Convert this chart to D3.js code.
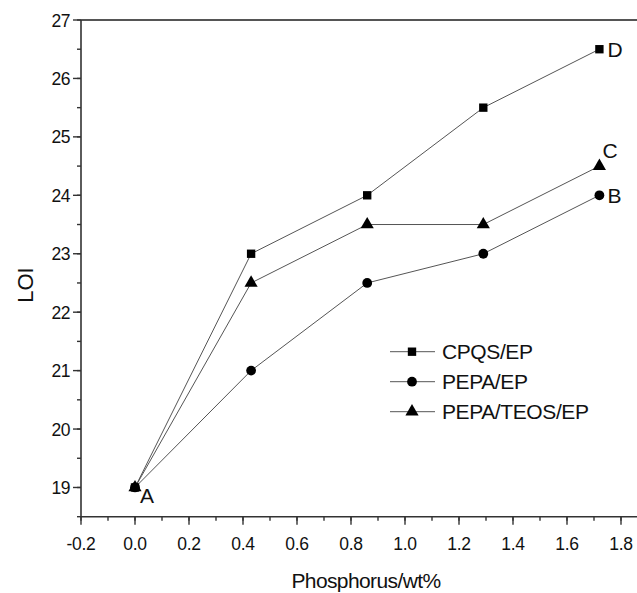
<!DOCTYPE html>
<html><head><meta charset="utf-8">
<script src="https://cdn.jsdelivr.net/npm/d3@7"></script>
<style>body{margin:0;background:#fff}svg{display:block}text{font-family:"Liberation Sans",Arial,sans-serif;fill:#111}</style>
</head><body>
<script>
const phosphorus = [0, 0.43, 0.86, 1.29, 1.72];
const cpqsEP = [19, 23, 24, 25.5, 26.5];
const pepaEP = [19, 21, 22.5, 23, 24];
const pepaTeosEP = [19, 22.5, 23.5, 23.5, 24.5];
const seriesNames = ["CPQS/EP", "PEPA/EP", "PEPA/TEOS/EP"];
const endLabels = ["D", "B", "C"];
const xTicks = [-0.2, 0, 0.2, 0.4, 0.6, 0.8, 1.0, 1.2, 1.4, 1.6, 1.8];
const yTicks = [19, 20, 21, 22, 23, 24, 25, 26, 27];

const W = 637, H = 593;
const svg = d3.select("body").append("svg").attr("width", W).attr("height", H);
const x = d3.scaleLinear().domain([-0.2, 1.8]).range([81, 621]);
const y = d3.scaleLinear().domain([18.5, 27]).range([516.7, 20]);
const xEnd = W;

const axisColor = "#333";
svg.append("line").attr("x1", 81).attr("x2", xEnd).attr("y1", y(27)).attr("y2", y(27))
  .attr("stroke", "#555").attr("stroke-width", 2);

// X axis
const gx = svg.append("g").attr("transform", `translate(0,${y(18.5)})`);
gx.append("line").attr("x1", 81).attr("x2", xEnd).attr("stroke", axisColor).attr("stroke-width", 1.6);
const xMinor = d3.range(-0.2, 1.85, 0.1).map(v => +v.toFixed(2));
gx.selectAll(".xm").data(xMinor).enter().append("line")
  .attr("x1", d => x(d)).attr("x2", d => x(d)).attr("y1", 0).attr("y2", 4)
  .attr("stroke", axisColor).attr("stroke-width", 1.4);
gx.selectAll(".xM").data(xTicks).enter().append("line")
  .attr("x1", d => x(d)).attr("x2", d => x(d)).attr("y1", 0).attr("y2", 8)
  .attr("stroke", axisColor).attr("stroke-width", 1.4);
gx.selectAll(".xl").data(xTicks).enter().append("text")
  .attr("x", d => x(d)).attr("y", 33).attr("text-anchor", "middle")
  .attr("font-size", 17.5).attr("letter-spacing", -0.3)
  .text(d => d3.format(".1f")(d).replace("\u2212", "-"));

// Y axis
const gy = svg.append("g");
gy.append("line").attr("x1", 81).attr("x2", 81).attr("y1", y(27)).attr("y2", y(18.5))
  .attr("stroke", axisColor).attr("stroke-width", 1.6);
const yMinor = d3.range(18.5, 27.01, 0.5);
gy.selectAll(".ym").data(yMinor).enter().append("line")
  .attr("x1", 77).attr("x2", 81).attr("y1", d => y(d)).attr("y2", d => y(d))
  .attr("stroke", axisColor).attr("stroke-width", 1.4);
gy.selectAll(".yM").data(yTicks).enter().append("line")
  .attr("x1", 73).attr("x2", 81).attr("y1", d => y(d)).attr("y2", d => y(d))
  .attr("stroke", axisColor).attr("stroke-width", 1.4);
gy.selectAll(".yl").data(yTicks).enter().append("text")
  .attr("x", 70).attr("y", d => y(d) + 6.5).attr("text-anchor", "end")
  .attr("font-size", 17.5).attr("letter-spacing", -0.5)
  .text(d => d);

// Axis titles
svg.append("text").attr("x", 366).attr("y", 588).attr("text-anchor", "middle")
  .attr("font-size", 21).attr("letter-spacing", -0.6).text("Phosphorus/wt%");
svg.append("text").attr("transform", "translate(33,285) rotate(-90)").attr("text-anchor", "middle")
  .attr("font-size", 22).text("LOI");

// Series
const allSeries = [cpqsEP, pepaEP, pepaTeosEP];
const shapes = [d3.symbolSquare, d3.symbolCircle, d3.symbolTriangle];
const sizes = [70, 75, 75];
const line = d3.line().x(d => x(d[0])).y(d => y(d[1]));
allSeries.forEach((vals, i) => {
  const pts = phosphorus.map((p, j) => [p, vals[j]]);
  svg.append("path").datum(pts).attr("d", line).attr("fill", "none")
    .attr("stroke", "#555").attr("stroke-width", 1);
});
[2, 1, 0].forEach(i => {
  const pts = phosphorus.map((p, j) => [p, allSeries[i][j]]);
  svg.selectAll(null).data(pts).enter().append("path")
    .attr("transform", d => `translate(${x(d[0])},${y(d[1])})`)
    .attr("d", d3.symbol().type(shapes[i]).size(sizes[i])).attr("fill", "#000");
});

// Point labels
const lastIdx = phosphorus.length - 1;
const labelOff = [[8, 8], [8, 8], [3, -8]];
allSeries.forEach((vals, i) => {
  svg.append("text").attr("x", x(phosphorus[lastIdx]) + labelOff[i][0])
    .attr("y", y(vals[lastIdx]) + labelOff[i][1]).attr("font-size", 21).text(endLabels[i]);
});
svg.append("text").attr("x", x(phosphorus[0]) + 5).attr("y", y(cpqsEP[0]) + 16)
  .attr("font-size", 21).text("A");

// Legend
const lg = svg.append("g");
seriesNames.forEach((name, i) => {
  const ly = 351.7 + i * 30;
  lg.append("line").attr("x1", 390).attr("x2", 435).attr("y1", ly).attr("y2", ly)
    .attr("stroke", "#555").attr("stroke-width", 1);
  lg.append("path").attr("transform", `translate(412,${ly})`)
    .attr("d", d3.symbol().type(shapes[i]).size(sizes[i])).attr("fill", "#000");
  lg.append("text").attr("x", 442).attr("y", ly + 7.5).attr("font-size", 21)
    .attr("letter-spacing", -0.4).text(name);
});
</script>
</body></html>
